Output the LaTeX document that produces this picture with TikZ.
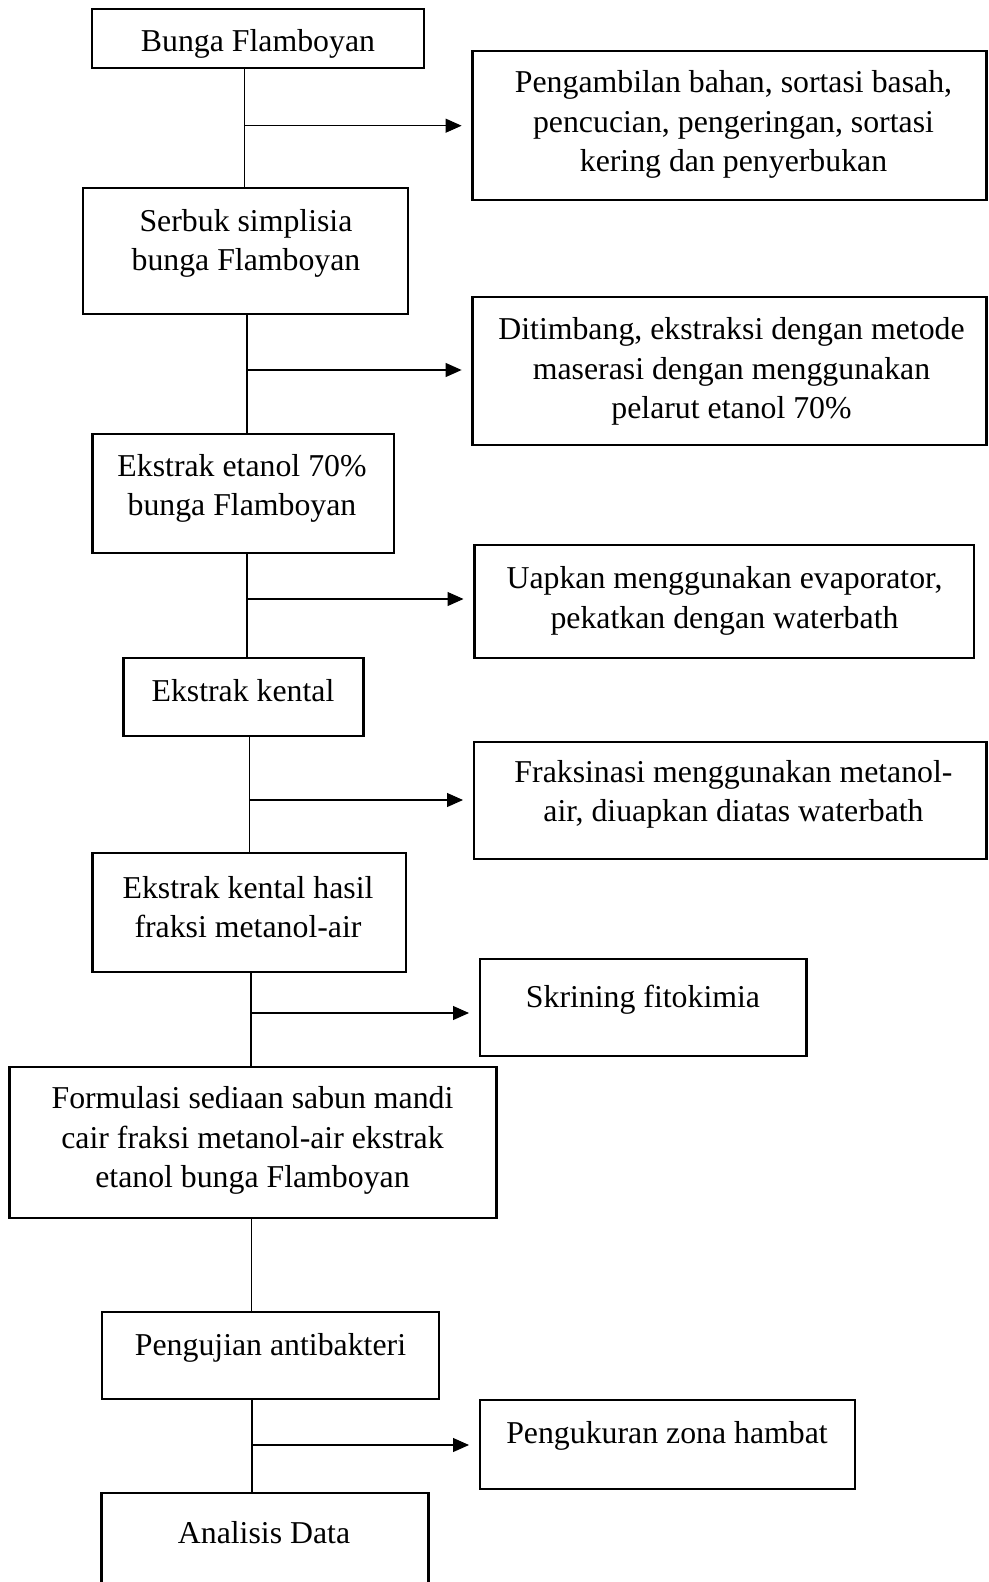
\documentclass[tikz,border=0pt]{standalone}
\usepackage{fontspec}
\setmainfont{Liberation Serif}
\usetikzlibrary{arrows.meta}
\begin{document}
\begin{tikzpicture}[x=1pt,y=-1pt,
  box/.style={draw,line width=2.4pt,inner sep=0pt,outer sep=0pt},
  txt/.style={inner sep=0pt,align=center,yshift=-2.5pt,font=\fontsize{31.8}{39.5}\selectfont},
  link/.style={line width=1.1pt},
  arr/.style={line width=1.1pt,-{Triangle[length=16pt,width=14pt]},shorten >=11pt}]
\useasboundingbox[fill=white] (0,0) rectangle (988,1582);

% left column boxes
\node[box,minimum width=332pt,minimum height=59pt] (b1) at (258,38.5) {};
\node[box,minimum width=325pt,minimum height=126pt] (b2) at (245.5,251) {};
\node[box,minimum width=301.4pt,minimum height=119pt] (b3) at (243.3,493.5) {};
\node[box,minimum width=240pt,minimum height=78pt] (b4) at (243.55,697) {};
\node[box,minimum width=313.4pt,minimum height=119pt] (b5) at (249.3,912.5) {};
\node[box,minimum width=487pt,minimum height=151pt] (b6) at (253,1142.5) {};
\node[box,minimum width=337pt,minimum height=87pt] (b7) at (270.5,1355.5) {};
\node[box,minimum width=327pt,minimum height=117pt] (b8) at (265,1551.5) {};

% right column boxes
\node[box,minimum width=513.9pt,minimum height=149pt] (r1) at (729.55,125.5) {};
\node[box,minimum width=513.9pt,minimum height=148pt] (r2) at (729.55,371) {};
\node[box,minimum width=499.5pt,minimum height=113pt] (r3) at (724.25,601.5) {};
\node[box,minimum width=512.5pt,minimum height=117pt] (r4) at (730.25,800.5) {};
\node[box,minimum width=326.5pt,minimum height=97pt] (r5) at (643.25,1007.5) {};
\node[box,minimum width=375pt,minimum height=89pt] (r7) at (667.5,1444.5) {};

% texts
\node[txt] (t1) at (258,41.4) {Bunga Flamboyan};
\node[txt] (t2) at (246,241) {Serbuk simplisia\\bunga Flamboyan};
\node[txt] (t3) at (242,486) {Ekstrak etanol 70\%\\bunga Flamboyan};
\node[txt] (t4) at (243,688.5) {Ekstrak kental};
\node[txt] (t5) at (248,904.5) {Ekstrak kental hasil\\fraksi metanol-air};
\node[txt] (t6) at (252.5,1138) {Formulasi sediaan sabun mandi\\cair fraksi metanol-air ekstrak\\etanol bunga Flamboyan};
\node[txt] (t7) at (270.5,1345) {Pengujian antibakteri};
\node[txt] (t8) at (264,1530.5) {Analisis Data};

\node[txt] (tr1) at (733.5,122) {Pengambilan bahan, sortasi basah,\\pencucian, pengeringan, sortasi\\kering dan penyerbukan};
\node[txt] (tr2) at (731.5,369) {Ditimbang, ekstraksi dengan metode\\maserasi dengan menggunakan\\pelarut etanol 70\%};
\node[txt] (tr3) at (724.5,598.5) {Uapkan menggunakan evaporator,\\pekatkan dengan waterbath};
\node[txt] (tr4) at (733.5,792) {Fraksinasi menggunakan metanol-\\air, diuapkan diatas waterbath};
\node[txt] (tr5) at (643,997) {Skrining fitokimia};
\node[txt] (tr7) at (667,1433.5) {Pengukuran zona hambat};

% junctions
\coordinate (j1) at (244.5,125.7);
\coordinate (j2) at (247,370);
\coordinate (j3) at (247,599);
\coordinate (j4) at (249.5,800);
\coordinate (j5) at (251,1013);
\coordinate (j6) at (251.5,1265);
\coordinate (j7) at (252,1445);

% connectors
\draw[link] (b1.south -| j1) -- (b2.north -| j1);
\draw[link] (b2.south -| j2) -- (b3.north -| j2);
\draw[link] (b3.south -| j3) -- (b4.north -| j3);
\draw[link] (b4.south -| j4) -- (b5.north -| j4);
\draw[link] (b5.south -| j5) -- (b6.north -| j5);
\draw[link] (b6.south -| j6) -- (b7.north -| j6);
\draw[link] (b7.south -| j7) -- (b8.north -| j7);

\draw[arr] (j1) -- (r1.west |- j1);
\draw[arr] (j2) -- (r2.west |- j2);
\draw[arr] (j3) -- (r3.west |- j3);
\draw[arr] (j4) -- (r4.west |- j4);
\draw[arr] (j5) -- (r5.west |- j5);
\draw[arr] (j7) -- (r7.west |- j7);
\end{tikzpicture}
\end{document}
